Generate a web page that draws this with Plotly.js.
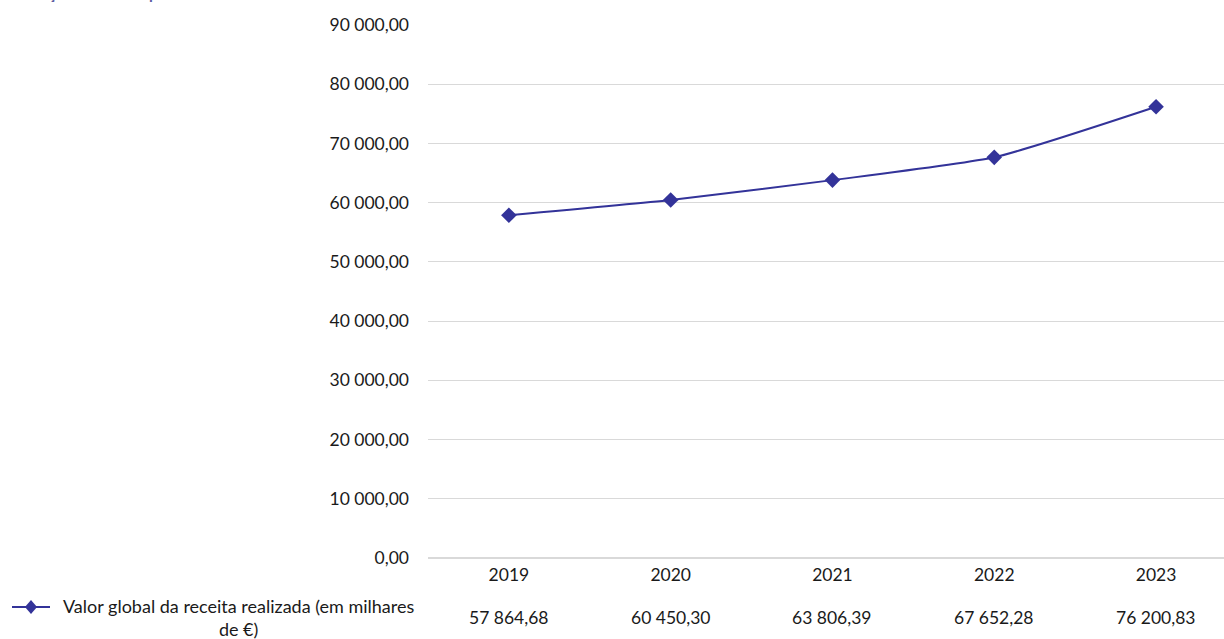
<!DOCTYPE html>
<html>
<head>
<meta charset="utf-8">
<script src="https://cdn.plot.ly/plotly-3.0.1.min.js"></script>
<style>html,body{margin:0;padding:0;overflow:hidden;background:#fff;}#chart{width:1224px;height:639px;}</style>
</head>
<body>
<div id="chart"></div>
<script>
const years = ['2019', '2020', '2021', '2022', '2023'];
const receita = [57864.68, 60450.30, 63806.39, 67652.28, 76200.83];
const seriesName = 'Valor global da receita realizada (em milhares<br>de €)';
const titleText = 'Evolução da receita por ano';

const LINE = '#333399';
const FONT = 'Lato, "Open Sans", sans-serif';
const FS = 17.5;

function fmt(v) {
  const parts = v.toFixed(2).split('.');
  const int = parts[0].replace(/\B(?=(\d{3})+(?!\d))/g, ' ');
  return int + ',' + parts[1];
}

// plot geometry helpers (paper fractions)
const L = 428, R = 0, T = 25, B = 81, W = 1224, H = 639;
const PW = W - L - R, PH = H - T - B;
const px = x => (x - L) / PW;
const py = y => (H - B - y) / PH;

const tableAnn = years.map((yr, i) => ({
  x: i, xref: 'x', y: py(617), yref: 'paper', yanchor: 'middle', xanchor: 'center',
  text: fmt(receita[i]), showarrow: false, font: {family: FONT, size: FS, color: '#1a1a1a'}
}));

const data = [{
  type: 'scatter', mode: 'lines+markers', x: years, y: receita, name: seriesName,
  line: {color: LINE, width: 2, shape: 'spline', smoothing: 0.5},
  marker: {symbol: 'diamond', size: 12, color: LINE},
  hoverinfo: 'x+y', showlegend: false
}];

const layout = {
  width: W, height: H,
  margin: {l: L, r: R, t: T, b: B, pad: 0},
  paper_bgcolor: '#fff', plot_bgcolor: '#fff',
  separators: ', ',
  font: {family: FONT, size: FS, color: '#1a1a1a'},
  xaxis: {
    type: 'category', range: [-0.5, 4.42], showgrid: false, zeroline: false, showline: false,
    ticks: '', ticklabelstandoff: 4, tickfont: {family: FONT, size: FS, color: '#1a1a1a'}, fixedrange: true
  },
  yaxis: {
    range: [0, 90000], dtick: 10000, tick0: 0, tickformat: ',.2f',
    showgrid: true, gridcolor: '#d9d9d9', gridwidth: 1,
    zeroline: true, zerolinecolor: '#d9d9d9', zerolinewidth: 1.5, showline: false,
    ticks: '', ticklabelstandoff: 18, tickfont: {family: FONT, size: FS, color: '#1a1a1a'}, fixedrange: true
  },
  shapes: [
    {type: 'line', xref: 'paper', yref: 'paper', x0: px(12), x1: px(50), y0: py(607), y1: py(607),
     line: {color: LINE, width: 2}},
    {type: 'path', xref: 'paper', yref: 'paper', xsizemode: 'pixel', ysizemode: 'pixel',
     xanchor: px(31), yanchor: py(607), path: 'M0,7 L6,0 L0,-7 L-6,0 Z',
     fillcolor: LINE, line: {color: LINE, width: 0}}
  ],
  annotations: [
    {x: px(238), xref: 'paper', y: py(617), yref: 'paper', xanchor: 'center', yanchor: 'middle',
     align: 'center', text: seriesName, showarrow: false, font: {family: FONT, size: 18, color: '#1a1a1a'}},
    {x: px(8), xref: 'paper', y: py(4), yref: 'paper', xanchor: 'left', yanchor: 'bottom',
     text: '<b>' + titleText + '</b>', showarrow: false, font: {family: FONT, size: 15.7, color: '#5b5ba0'}}
  ].concat(tableAnn)
};

Plotly.newPlot('chart', data, layout, {displayModeBar: false, staticPlot: true});
</script>
</body>
</html>
